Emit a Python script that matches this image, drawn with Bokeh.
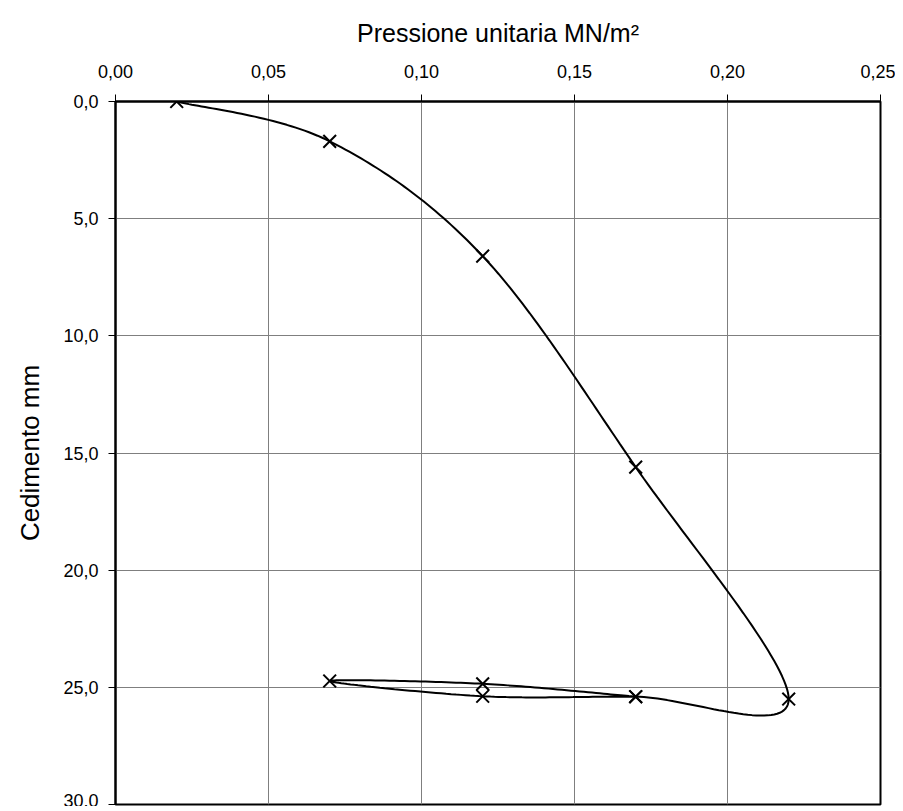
import numpy as np
from bokeh.plotting import figure
from bokeh.models import Range1d, FixedTicker
from bokeh.embed import file_html
from bokeh.resources import INLINE

# ---- data ----
pressure = [0.02, 0.07, 0.12, 0.17, 0.22, 0.17, 0.12, 0.07, 0.12, 0.17]
settlement = [0.0, 1.7, 6.6, 15.6, 25.5, 25.4, 25.38, 24.73, 24.85, 25.4]

x_ticks = [0, 0.05, 0.1, 0.15, 0.2, 0.25]
x_tick_labels = ["0,00", "0,05", "0,10", "0,15", "0,20", "0,25"]
y_ticks = [0, 5, 10, 15, 20, 25, 30]
y_tick_labels = ["0,0", "5,0", "10,0", "15,0", "20,0", "25,0", "30,0"]

x_title = "Pressione unitaria MN/m²"
y_title = "Cedimento mm"


def smooth(xs, ys, n=40):
    """Excel-like smoothed line: cubic Bezier segments with Catmull-Rom control points."""
    P = np.column_stack([xs, ys]).astype(float)
    m = len(P)
    out = []
    t = np.linspace(0, 1, n)[:, None]
    for i in range(m - 1):
        p0 = P[i]
        p3 = P[i + 1]
        prev = P[i - 1] if i > 0 else P[i]
        nxt = P[i + 2] if i + 2 < m else P[i + 1]
        c1 = p0 + (p3 - prev) / 6.0
        c2 = p3 - (nxt - p0) / 6.0
        seg = ((1 - t) ** 3) * p0 + 3 * ((1 - t) ** 2) * t * c1 + 3 * (1 - t) * t ** 2 * c2 + t ** 3 * p3
        out.append(seg if i == 0 else seg[1:])
    arr = np.vstack(out)
    return arr[:, 0], arr[:, 1]


sx, sy = smooth(pressure, settlement)

p = figure(
    width=895, height=806,
    output_backend="svg", toolbar_location=None,
    x_axis_location="above",
    x_range=Range1d(0, 0.25), y_range=Range1d(30, 0),
    min_border_left=115, min_border_right=15, min_border_top=101, min_border_bottom=2,
    background_fill_color="white", border_fill_color="white",
)

p.outline_line_color = "black"
p.outline_line_width = 2
p.outline_line_alpha = 1.0

# axes
for ax in (p.xaxis[0], p.yaxis[0]):
    ax.axis_line_color = "black"
    ax.axis_line_width = 2
    ax.major_tick_line_color = "black"
    ax.major_tick_line_width = 1
    ax.major_tick_out = 7
    ax.major_tick_in = 0
    ax.minor_tick_line_color = None
    ax.major_label_text_font = "Liberation Sans"
    ax.major_label_text_font_size = "18px"
    ax.major_label_text_color = "black"
    ax.axis_label_text_font = "Liberation Sans"
    ax.axis_label_text_font_style = "normal"
    ax.axis_label_text_color = "black"

p.xaxis[0].ticker = FixedTicker(ticks=x_ticks)
p.xaxis[0].major_label_overrides = dict(zip(x_ticks, x_tick_labels))
p.xaxis[0].axis_label = x_title
p.xaxis[0].axis_label_text_font_size = "25px"
p.xaxis[0].major_label_standoff = 17
p.xaxis[0].axis_label_standoff = 15

p.yaxis[0].ticker = FixedTicker(ticks=y_ticks)
p.yaxis[0].major_label_overrides = dict(zip(y_ticks, y_tick_labels))
p.yaxis[0].axis_label = y_title
p.yaxis[0].axis_label_text_font_size = "26px"
p.yaxis[0].major_label_standoff = 10
p.yaxis[0].axis_label_standoff = 15

p.xgrid.ticker = FixedTicker(ticks=x_ticks)
p.ygrid.ticker = FixedTicker(ticks=y_ticks)
p.grid.grid_line_color = "#7f7f7f"
p.grid.grid_line_width = 1

p.line(sx, sy, line_color="black", line_width=2)
p.scatter(pressure, settlement, marker="x", size=18, line_color="black", line_width=2)

open("out.html", "w").write(file_html(p, INLINE))
